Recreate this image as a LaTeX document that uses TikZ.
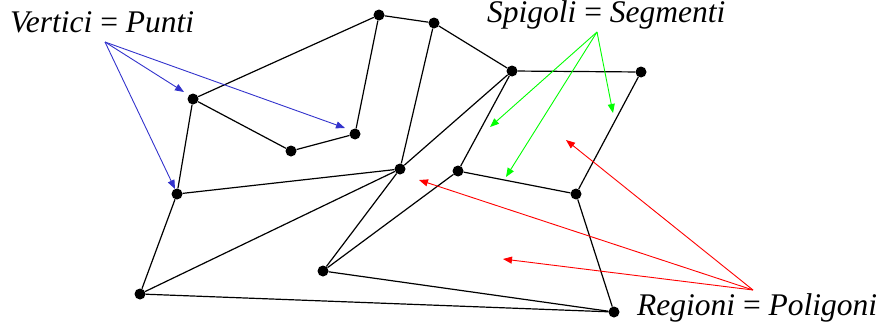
\documentclass[tikz,border=0pt]{standalone}
\usepackage{fontspec}
\setmainfont{Liberation Serif}
\usetikzlibrary{arrows.meta}
\begin{document}
\begin{tikzpicture}[x=1pt,y=-1pt,
  vtx/.style={circle,fill=black,inner sep=0pt,minimum size=11pt},
  edge/.style={line width=1.2pt,black},
  lbl/.style={font=\fontsize{31.5}{36}\selectfont\itshape,inner sep=0pt},
  ptr/.style={line width=0.9pt,-{Triangle[length=9pt,width=7pt]}}]
\useasboundingbox (0,0) rectangle (889,324);
\node[vtx] (A) at (379,15) {};
\node[vtx] (B) at (434,23) {};
\node[vtx] (C) at (512,71) {};
\node[vtx] (D) at (641,72) {};
\node[vtx] (E) at (193,99) {};
\node[vtx] (F) at (355,134) {};
\node[vtx] (G) at (291,151) {};
\node[vtx] (H) at (400,169) {};
\node[vtx] (I) at (458,171) {};
\node[vtx] (J) at (576,194) {};
\node[vtx] (K) at (177,194) {};
\node[vtx] (L) at (323,271) {};
\node[vtx] (M) at (140,294) {};
\node[vtx] (N) at (614,312) {};
\foreach \a/\b in {E/A,A/F,F/G,G/E,E/K,A/B,B/C,B/H,C/D,C/H,C/I,D/J,I/J,J/N,K/H,K/M,M/H,H/L,L/I,L/N,M/N}
  \draw[edge] (\a) -- (\b);
\node[lbl,anchor=base west] (vt) at (10,32) {Vertici {\upshape=} Punti};
\node[lbl,anchor=base west] (sp) at (487,23) {Spigoli {\upshape=} Segmenti};
\node[lbl,anchor=base west] (rg) at (637,315) {Regioni {\upshape=} Poligoni};
\coordinate (vs) at (105,42);
\coordinate (ss) at (597,32);
\coordinate (rs) at (753,290);
\coordinate (v1) at (184,92);
\coordinate (v2) at (345,128);
\coordinate (v3) at (175,189);
\coordinate (s1) at (490,127);
\coordinate (s2) at (506,177);
\coordinate (s3) at (613,113);
\coordinate (r1) at (566,140);
\coordinate (r2) at (419,180);
\coordinate (r3) at (503,259);
\foreach \t in {v1,v2,v3} \draw[ptr,blue!75!black!80] (vs) -- (\t);
\foreach \t in {s1,s2,s3} \draw[ptr,green] (ss) -- (\t);
\foreach \t in {r1,r2,r3} \draw[ptr,red] (rs) -- (\t);
\end{tikzpicture}
\end{document}
